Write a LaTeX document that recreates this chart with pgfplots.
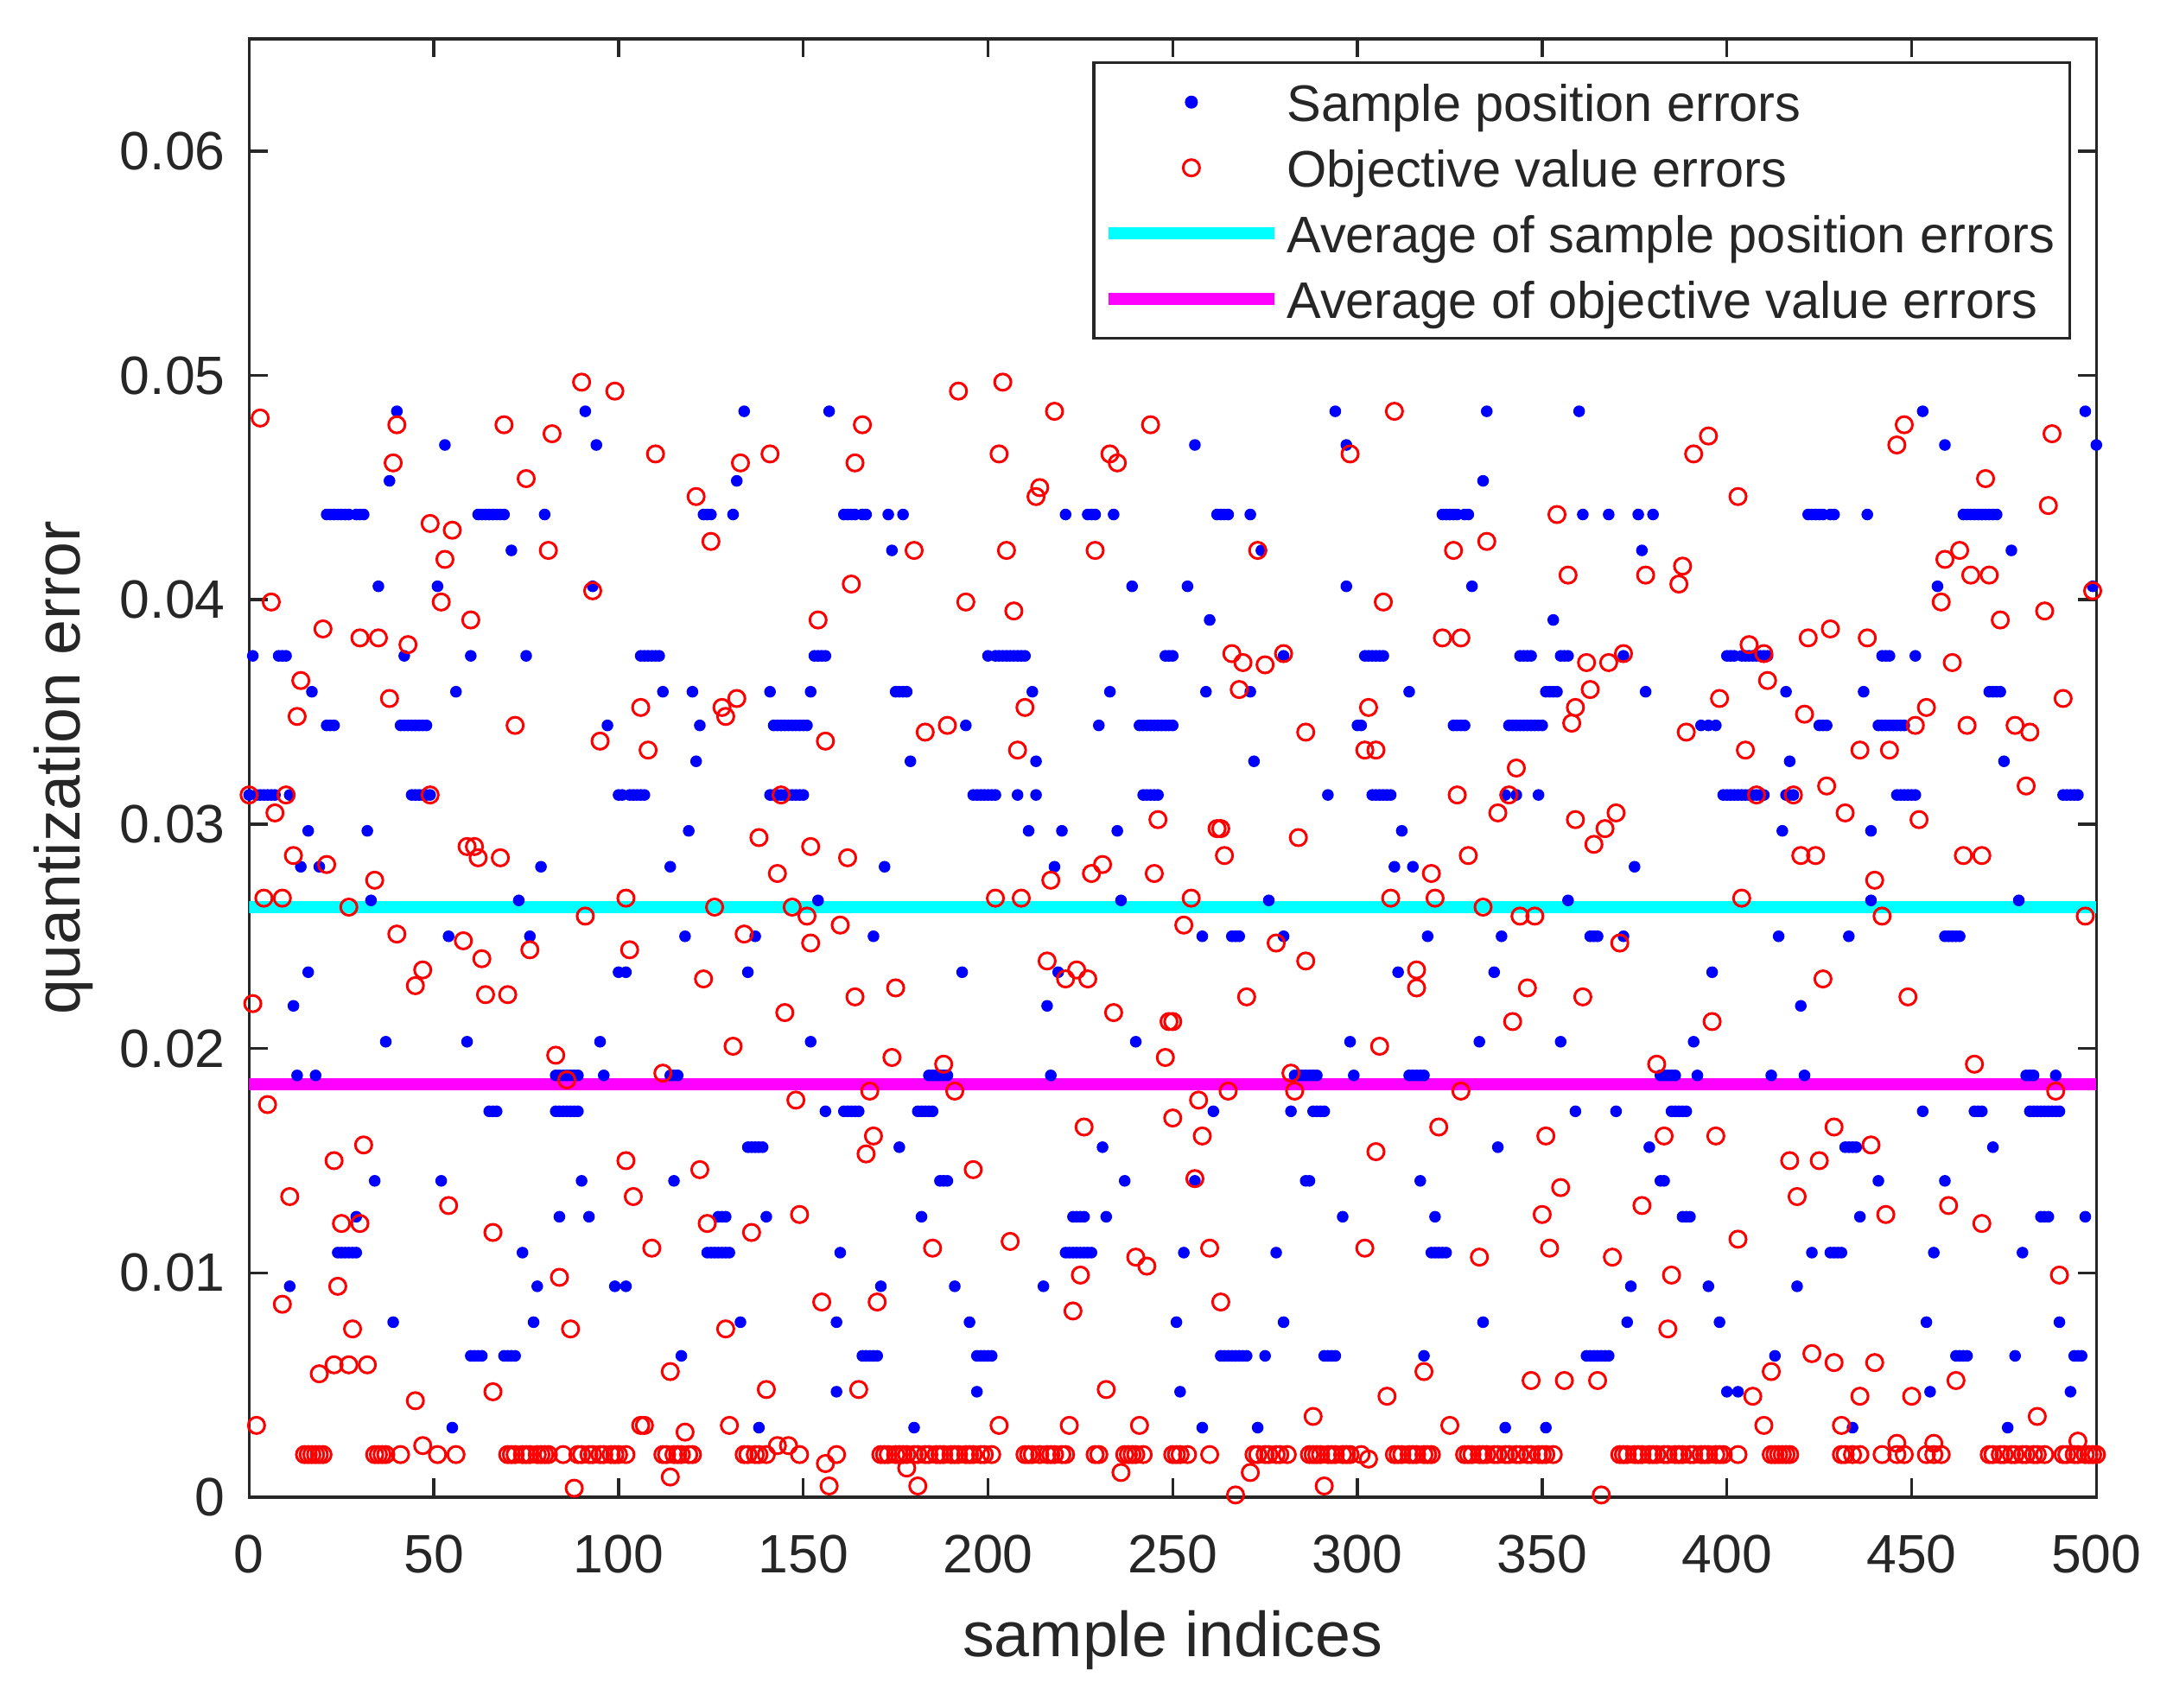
\documentclass[border=0pt]{standalone}
\usepackage{fontspec}
\setmainfont{Liberation Sans}
\usepackage{pgfplots}
\pgfplotsset{compat=1.18}
\definecolor{mcyan}{rgb}{0,1,1}
\definecolor{mmag}{rgb}{1,0,1}
\definecolor{mblue}{rgb}{0,0,1}
\definecolor{mred}{rgb}{1,0,0}
\begin{document}
\begin{tikzpicture}
\begin{axis}[
  width=427.6pt, height=337.6pt, scale only axis,
  xmin=0, xmax=500, ymin=0, ymax=0.065,
  xtick={0,50,...,500},
  ytick={0,0.01,0.02,0.03,0.04,0.05,0.06},
  yticklabels={0,0.01,0.02,0.03,0.04,0.05,0.06},
  scaled y ticks=false,
  tick align=inside,
  major tick length=4.3pt,
  axis line style={black!85, line width=0.7pt},
  every tick/.style={black!85, line width=0.7pt},
  ticklabel style={font=\fontsize{12.5}{14}\selectfont, text=black!85},
  /pgf/number format/assume math mode=true,
  xticklabel style={yshift=-5.3pt},
  yticklabel style={xshift=-2pt},
  xlabel={sample indices}, ylabel={quantization error},
  label style={font=\fontsize{14.7}{17}\selectfont, text=black!85},
  xlabel style={at={(axis description cs:0.5,0)}, yshift=-37pt, anchor=base},
  ylabel style={at={(axis description cs:-0.1006,0.5)}, anchor=center},
  legend style={at={(rel axis cs:0.9864,0.9846)}, anchor=north east, draw=black!85, line width=0.7pt,
    font=\fontsize{11.9}{14}\selectfont, text=black!85, inner sep=2pt, row sep=1pt,
    nodes={inner sep=1.5pt, text height=10pt, text depth=1.2pt}, cells={anchor=west}},
  legend image code/.code={\draw[mark repeat=2,mark phase=2,#1] plot coordinates {(0cm,0cm) (0.675cm,0cm) (1.35cm,0cm)};},
]
\addplot[only marks, mark=*, mark size=1.15pt, color=mblue] coordinates {
(40,0.0484)(91,0.0484)(53,0.0469)(94,0.0469)(38,0.0453)
(21,0.0438)(22,0.0438)(23,0.0438)(24,0.0438)(25,0.0438)(26,0.0438)(27,0.0438)(29,0.0438)(30,0.0438)(31,0.0438)(62,0.0438)(63,0.0438)(64,0.0438)(65,0.0438)(66,0.0438)(67,0.0438)(68,0.0438)(69,0.0438)(80,0.0438)
(71,0.0422)(35,0.0406)(51,0.0406)(93,0.0406)
(1,0.0375)(8,0.0375)(9,0.0375)(10,0.0375)(42,0.0375)(60,0.0375)(75,0.0375)
(17,0.0359)(56,0.0359)
(21,0.0344)(22,0.0344)(23,0.0344)(41,0.0344)(42,0.0344)(43,0.0344)(44,0.0344)(45,0.0344)(46,0.0344)(47,0.0344)(48,0.0344)(97,0.0344)
(0,0.0313)(2,0.0313)(3,0.0313)(4,0.0313)(5,0.0313)(6,0.0313)(7,0.0313)(11,0.0313)(44,0.0313)(45,0.0313)(46,0.0313)(47,0.0313)(48,0.0313)(49,0.0313)(100,0.0313)(101,0.0313)
(16,0.0297)(32,0.0297)(14,0.0281)(19,0.0281)(79,0.0281)(33,0.0266)(73,0.0266)(54,0.025)(76,0.025)(16,0.0234)(100,0.0234)(12,0.0219)
(37,0.0203)(59,0.0203)(95,0.0203)
(13,0.0188)(18,0.0188)(83,0.0188)(84,0.0188)(85,0.0188)(86,0.0188)(87,0.0188)(88,0.0188)(89,0.0188)(96,0.0188)
(65,0.0172)(66,0.0172)(67,0.0172)(83,0.0172)(84,0.0172)(85,0.0172)(86,0.0172)(87,0.0172)(88,0.0172)(89,0.0172)
(34,0.0141)(52,0.0141)(90,0.0141)(29,0.0125)(84,0.0125)(92,0.0125)
(24,0.0109)(25,0.0109)(26,0.0109)(27,0.0109)(28,0.0109)(29,0.0109)(74,0.0109)
(11,0.0094)(78,0.0094)(99,0.0094)(39,0.0078)(77,0.0078)
(60,0.0063)(61,0.0063)(62,0.0063)(63,0.0063)(69,0.0063)(70,0.0063)(71,0.0063)(72,0.0063)(55,0.0031)
(134,0.0484)(157,0.0484)(132,0.0453)
(123,0.0438)(124,0.0438)(125,0.0438)(131,0.0438)(161,0.0438)(162,0.0438)(163,0.0438)(164,0.0438)(166,0.0438)(167,0.0438)(173,0.0438)(177,0.0438)
(174,0.0422)
(106,0.0375)(107,0.0375)(108,0.0375)(109,0.0375)(110,0.0375)(111,0.0375)(153,0.0375)(154,0.0375)(155,0.0375)(156,0.0375)(200,0.0375)
(112,0.0359)(120,0.0359)(141,0.0359)(152,0.0359)(175,0.0359)(176,0.0359)(177,0.0359)(178,0.0359)
(122,0.0344)(142,0.0344)(143,0.0344)(144,0.0344)(145,0.0344)(146,0.0344)(147,0.0344)(148,0.0344)(149,0.0344)(150,0.0344)(151,0.0344)(194,0.0344)
(121,0.0328)(179,0.0328)
(103,0.0313)(104,0.0313)(105,0.0313)(106,0.0313)(107,0.0313)(141,0.0313)(142,0.0313)(143,0.0313)(144,0.0313)(145,0.0313)(146,0.0313)(147,0.0313)(148,0.0313)(149,0.0313)(150,0.0313)(196,0.0313)(197,0.0313)(198,0.0313)(199,0.0313)(200,0.0313)
(119,0.0297)(114,0.0281)(172,0.0281)(154,0.0266)(118,0.025)(137,0.025)(169,0.025)(102,0.0234)(135,0.0234)(193,0.0234)(152,0.0203)
(114,0.0188)(115,0.0188)(116,0.0188)(184,0.0188)(185,0.0188)(186,0.0188)(187,0.0188)(188,0.0188)(189,0.0188)
(156,0.0172)(161,0.0172)(162,0.0172)(163,0.0172)(164,0.0172)(165,0.0172)(181,0.0172)(182,0.0172)(183,0.0172)(184,0.0172)(185,0.0172)
(135,0.0156)(136,0.0156)(137,0.0156)(138,0.0156)(139,0.0156)(176,0.0156)
(115,0.0141)(187,0.0141)(188,0.0141)(189,0.0141)
(127,0.0125)(128,0.0125)(129,0.0125)(140,0.0125)(182,0.0125)
(124,0.0109)(125,0.0109)(126,0.0109)(127,0.0109)(128,0.0109)(129,0.0109)(130,0.0109)(160,0.0109)
(102,0.0094)(171,0.0094)(191,0.0094)(133,0.0078)(159,0.0078)(195,0.0078)
(117,0.0063)(166,0.0063)(167,0.0063)(168,0.0063)(169,0.0063)(170,0.0063)(197,0.0063)(198,0.0063)(199,0.0063)(200,0.0063)
(159,0.0047)(197,0.0047)(138,0.0031)(180,0.0031)
(294,0.0484)(256,0.0469)(297,0.0469)
(221,0.0438)(227,0.0438)(228,0.0438)(229,0.0438)(234,0.0438)(262,0.0438)(263,0.0438)(264,0.0438)(265,0.0438)(271,0.0438)
(274,0.0422)(239,0.0406)(254,0.0406)(297,0.0406)(260,0.0391)
(202,0.0375)(203,0.0375)(204,0.0375)(205,0.0375)(206,0.0375)(207,0.0375)(208,0.0375)(209,0.0375)(210,0.0375)(248,0.0375)(249,0.0375)(250,0.0375)(280,0.0375)
(212,0.0359)(233,0.0359)(259,0.0359)(271,0.0359)
(230,0.0344)(241,0.0344)(242,0.0344)(243,0.0344)(244,0.0344)(245,0.0344)(246,0.0344)(247,0.0344)(248,0.0344)(249,0.0344)(250,0.0344)(300,0.0344)
(213,0.0328)(272,0.0328)
(201,0.0313)(202,0.0313)(208,0.0313)(213,0.0313)(242,0.0313)(243,0.0313)(244,0.0313)(245,0.0313)(246,0.0313)(292,0.0313)
(211,0.0297)(220,0.0297)(235,0.0297)(218,0.0281)(236,0.0266)(276,0.0266)
(258,0.025)(266,0.025)(267,0.025)(268,0.025)(280,0.025)(219,0.0234)(216,0.0219)(240,0.0203)(298,0.0203)
(217,0.0188)(283,0.0188)(284,0.0188)(285,0.0188)(286,0.0188)(287,0.0188)(288,0.0188)(289,0.0188)(299,0.0188)
(261,0.0172)(282,0.0172)(288,0.0172)(289,0.0172)(290,0.0172)(291,0.0172)
(231,0.0156)(237,0.0141)(256,0.0141)(286,0.0141)(287,0.0141)
(223,0.0125)(224,0.0125)(225,0.0125)(226,0.0125)(232,0.0125)(296,0.0125)
(221,0.0109)(222,0.0109)(223,0.0109)(224,0.0109)(225,0.0109)(226,0.0109)(227,0.0109)(228,0.0109)(253,0.0109)(278,0.0109)
(215,0.0094)(251,0.0078)(280,0.0078)
(201,0.0063)(263,0.0063)(264,0.0063)(265,0.0063)(266,0.0063)(267,0.0063)(268,0.0063)(269,0.0063)(270,0.0063)(275,0.0063)(291,0.0063)(292,0.0063)(293,0.0063)(294,0.0063)
(252,0.0047)(258,0.0031)(273,0.0031)
(335,0.0484)(360,0.0484)(334,0.0453)
(323,0.0438)(324,0.0438)(325,0.0438)(326,0.0438)(327,0.0438)(329,0.0438)(330,0.0438)(361,0.0438)(368,0.0438)(376,0.0438)(380,0.0438)
(377,0.0422)(331,0.0406)(353,0.0391)
(302,0.0375)(303,0.0375)(304,0.0375)(305,0.0375)(306,0.0375)(307,0.0375)(344,0.0375)(345,0.0375)(346,0.0375)(347,0.0375)(355,0.0375)(356,0.0375)(357,0.0375)(372,0.0375)(400,0.0375)(401,0.0375)(402,0.0375)
(314,0.0359)(351,0.0359)(352,0.0359)(353,0.0359)(354,0.0359)(378,0.0359)
(301,0.0344)(326,0.0344)(327,0.0344)(328,0.0344)(329,0.0344)(341,0.0344)(342,0.0344)(343,0.0344)(344,0.0344)(345,0.0344)(346,0.0344)(347,0.0344)(348,0.0344)(349,0.0344)(350,0.0344)(393,0.0344)(395,0.0344)(397,0.0344)
(304,0.0313)(305,0.0313)(306,0.0313)(307,0.0313)(308,0.0313)(309,0.0313)(340,0.0313)(343,0.0313)(349,0.0313)(399,0.0313)(400,0.0313)(401,0.0313)(402,0.0313)(403,0.0313)
(312,0.0297)(310,0.0281)(315,0.0281)(375,0.0281)(357,0.0266)
(319,0.025)(339,0.025)(363,0.025)(364,0.025)(365,0.025)(372,0.025)(311,0.0234)(337,0.0234)(396,0.0234)
(333,0.0203)(355,0.0203)(391,0.0203)
(314,0.0188)(315,0.0188)(316,0.0188)(317,0.0188)(318,0.0188)(382,0.0188)(383,0.0188)(384,0.0188)(385,0.0188)(386,0.0188)(392,0.0188)
(359,0.0172)(370,0.0172)(385,0.0172)(386,0.0172)(387,0.0172)(388,0.0172)(389,0.0172)
(338,0.0156)(379,0.0156)(317,0.0141)(382,0.0141)(383,0.0141)
(321,0.0125)(388,0.0125)(389,0.0125)(390,0.0125)
(320,0.0109)(321,0.0109)(322,0.0109)(323,0.0109)(324,0.0109)
(374,0.0094)(395,0.0094)(334,0.0078)(373,0.0078)(398,0.0078)
(318,0.0063)(362,0.0063)(363,0.0063)(364,0.0063)(365,0.0063)(366,0.0063)(367,0.0063)(368,0.0063)
(400,0.0047)(340,0.0031)(351,0.0031)
(453,0.0484)(497,0.0484)(459,0.0469)(500,0.0469)
(422,0.0438)(423,0.0438)(424,0.0438)(425,0.0438)(426,0.0438)(428,0.0438)(429,0.0438)(438,0.0438)(464,0.0438)(465,0.0438)(466,0.0438)(467,0.0438)(468,0.0438)(469,0.0438)(470,0.0438)(471,0.0438)(472,0.0438)(473,0.0438)
(477,0.0422)(457,0.0406)(499,0.0406)
(404,0.0375)(405,0.0375)(406,0.0375)(407,0.0375)(408,0.0375)(409,0.0375)(410,0.0375)(411,0.0375)(442,0.0375)(443,0.0375)(444,0.0375)(451,0.0375)
(416,0.0359)(437,0.0359)(471,0.0359)(472,0.0359)(473,0.0359)(474,0.0359)
(425,0.0344)(426,0.0344)(427,0.0344)(441,0.0344)(442,0.0344)(443,0.0344)(444,0.0344)(445,0.0344)(446,0.0344)(447,0.0344)(448,0.0344)
(417,0.0328)(475,0.0328)
(404,0.0313)(405,0.0313)(406,0.0313)(407,0.0313)(408,0.0313)(409,0.0313)(410,0.0313)(416,0.0313)(417,0.0313)(418,0.0313)(446,0.0313)(447,0.0313)(448,0.0313)(449,0.0313)(450,0.0313)(451,0.0313)(491,0.0313)(492,0.0313)(493,0.0313)(494,0.0313)(495,0.0313)
(415,0.0297)(439,0.0297)(439,0.0266)(479,0.0266)
(414,0.025)(433,0.025)(459,0.025)(460,0.025)(461,0.025)(462,0.025)(463,0.025)(420,0.0219)
(412,0.0188)(421,0.0188)(481,0.0188)(482,0.0188)(483,0.0188)(489,0.0188)
(453,0.0172)(467,0.0172)(468,0.0172)(469,0.0172)(482,0.0172)(483,0.0172)(484,0.0172)(485,0.0172)(486,0.0172)(487,0.0172)(488,0.0172)(489,0.0172)(490,0.0172)
(432,0.0156)(433,0.0156)(434,0.0156)(435,0.0156)(472,0.0156)(441,0.0141)(459,0.0141)
(436,0.0125)(485,0.0125)(486,0.0125)(487,0.0125)(497,0.0125)
(423,0.0109)(428,0.0109)(429,0.0109)(430,0.0109)(431,0.0109)(456,0.0109)(480,0.0109)
(419,0.0094)(454,0.0078)(490,0.0078)
(413,0.0063)(462,0.0063)(463,0.0063)(464,0.0063)(465,0.0063)(478,0.0063)(494,0.0063)(495,0.0063)(496,0.0063)
(403,0.0047)(455,0.0047)(493,0.0047)(434,0.0031)(476,0.0031)
};
\addlegendentry{Sample position errors}
\addplot[only marks, mark=o, mark size=1.9pt, color=mred, line width=0.6pt] coordinates {
(3,0.0481)(90,0.0497)(99,0.0493)(40,0.0478)(69,0.0478)(82,0.0474)(39,0.0461)(75,0.0454)(49,0.0434)(55,0.0431)(53,0.0418)(81,0.0422)(52,0.0399)(6,0.0399)(93,0.0404)(20,0.0387)(30,0.0383)(35,0.0383)(43,0.0380)(60,0.0391)(14,0.0364)(38,0.0356)(13,0.0348)(72,0.0344)(95,0.0337)(0,0.0313)(10,0.0313)(49,0.0313)(7,0.0305)(12,0.0286)(21,0.0282)(34,0.0275)(59,0.0290)(61,0.0290)(62,0.0285)(68,0.0285)(4,0.0267)(9,0.0267)(27,0.0263)(102,0.0267)(91,0.0259)(40,0.0251)(58,0.0248)(63,0.0240)(76,0.0244)(103,0.0244)(47,0.0235)(45,0.0228)(64,0.0224)(70,0.0224)(1,0.0220)(83,0.0197)(86,0.0186)(5,0.0175)(31,0.0157)(23,0.0150)(11,0.0134)(102,0.0150)(104,0.0134)(54,0.0130)(25,0.0122)(30,0.0122)(66,0.0118)(24,0.0094)(9,0.0086)(84,0.0098)(28,0.0075)(87,0.0075)(19,0.0055)(23,0.0059)(27,0.0059)(32,0.0059)(45,0.0043)(66,0.0047)(2,0.0032)(106,0.0032)
(15,0.0019)(16,0.0019)(17,0.0019)(18,0.0019)(19,0.0019)(20,0.0019)(34,0.0019)(35,0.0019)(36,0.0019)(37,0.0019)(41,0.0019)(51,0.0019)(56,0.0019)(70,0.0019)(71,0.0019)(72,0.0019)(74,0.0019)(75,0.0019)(76,0.0019)(78,0.0019)(79,0.0019)(80,0.0019)(81,0.0019)(85,0.0019)(89,0.0019)(90,0.0019)(92,0.0019)(93,0.0019)(95,0.0019)(96,0.0019)(98,0.0019)(99,0.0019)(100,0.0019)
(47,0.0023)(88,0.0004)
(192,0.0493)(166,0.0478)(110,0.0465)(133,0.0461)(141,0.0465)(164,0.0461)(121,0.0446)(125,0.0426)(180,0.0422)(163,0.0407)(154,0.0391)(194,0.0399)(106,0.0352)(128,0.0352)(129,0.0348)(132,0.0356)(108,0.0333)(156,0.0337)(183,0.0341)(189,0.0344)(144,0.0313)(138,0.0294)(152,0.0290)(162,0.0285)(143,0.0278)(126,0.0263)(147,0.0263)(151,0.0259)(134,0.0251)(160,0.0255)(152,0.0247)(123,0.0231)(164,0.0223)(175,0.0227)(145,0.0216)(131,0.0201)(174,0.0196)(112,0.0189)(188,0.0193)(191,0.0181)(168,0.0181)(148,0.0177)(169,0.0161)(167,0.0153)(122,0.0146)(196,0.0146)(124,0.0122)(136,0.0118)(149,0.0126)(185,0.0111)(109,0.0111)(155,0.0087)(170,0.0087)(129,0.0075)(114,0.0056)(140,0.0048)(165,0.0048)(107,0.0032)(130,0.0032)(118,0.0029)
(102,0.0019)(112,0.0019)(113,0.0019)(115,0.0019)(116,0.0019)(117,0.0019)(119,0.0019)(120,0.0019)(134,0.0019)(135,0.0019)(137,0.0019)(138,0.0019)(140,0.0019)(149,0.0019)(159,0.0019)(171,0.0019)(172,0.0019)(173,0.0019)(175,0.0019)(176,0.0019)(177,0.0019)(178,0.0019)(180,0.0019)(181,0.0019)(183,0.0019)(184,0.0019)(186,0.0019)(187,0.0019)(188,0.0019)(190,0.0019)(191,0.0019)(192,0.0019)(194,0.0019)(195,0.0019)(196,0.0019)(198,0.0019)(199,0.0019)
(143,0.0023)(146,0.0023)(156,0.0015)(114,0.0009)(157,0.0005)(178,0.0013)(181,0.0005)
(204,0.0497)(218,0.0484)(244,0.0478)(203,0.0465)(233,0.0465)(235,0.0461)(298,0.0465)(214,0.0450)(213,0.0446)(205,0.0422)(229,0.0422)(273,0.0422)(207,0.0395)(266,0.0376)(269,0.0372)(275,0.0371)(280,0.0376)(268,0.0360)(210,0.0352)(286,0.0341)(208,0.0333)(246,0.0302)(262,0.0298)(263,0.0298)(284,0.0294)(264,0.0286)(231,0.0282)(228,0.0278)(245,0.0278)(217,0.0275)(202,0.0267)(209,0.0267)(255,0.0267)(253,0.0255)(278,0.0247)(286,0.0239)(216,0.0239)(221,0.0231)(224,0.0235)(227,0.0231)(270,0.0223)(234,0.0216)(249,0.0212)(250,0.0212)(248,0.0196)(282,0.0189)(283,0.0181)(257,0.0177)(265,0.0181)(226,0.0165)(250,0.0169)(258,0.0161)(256,0.0142)(206,0.0114)(260,0.0111)(240,0.0107)(243,0.0103)(225,0.0099)(263,0.0087)(223,0.0083)(232,0.0048)(203,0.0032)(222,0.0032)(241,0.0032)(288,0.0036)
(201,0.0019)(210,0.0019)(211,0.0019)(212,0.0019)(214,0.0019)(216,0.0019)(217,0.0019)(218,0.0019)(220,0.0019)(221,0.0019)(229,0.0019)(230,0.0019)(237,0.0019)(238,0.0019)(239,0.0019)(240,0.0019)(242,0.0019)(250,0.0019)(251,0.0019)(252,0.0019)(254,0.0019)(260,0.0019)(272,0.0019)(273,0.0019)(275,0.0019)(276,0.0019)(278,0.0019)(279,0.0019)(281,0.0019)(287,0.0019)(288,0.0019)(289,0.0019)(290,0.0019)(292,0.0019)(293,0.0019)(294,0.0019)(296,0.0019)(297,0.0019)(298,0.0019)
(236,0.0011)(271,0.0011)(267,0.0001)(291,0.0005)
(310,0.0484)(391,0.0465)(395,0.0473)(354,0.0438)(326,0.0422)(335,0.0426)(357,0.0411)(378,0.0411)(388,0.0415)(387,0.0407)(307,0.0399)(323,0.0383)(328,0.0383)(362,0.0372)(368,0.0372)(372,0.0376)(363,0.0360)(359,0.0352)(358,0.0345)(303,0.0352)(398,0.0356)(389,0.0341)(302,0.0333)(305,0.0333)(343,0.0325)(327,0.0313)(338,0.0305)(341,0.0313)(359,0.0302)(367,0.0298)(370,0.0305)(364,0.0291)(320,0.0278)(330,0.0286)(309,0.0267)(321,0.0267)(334,0.0263)(344,0.0259)(348,0.0259)(371,0.0247)(316,0.0235)(316,0.0227)(346,0.0227)(361,0.0223)(342,0.0212)(396,0.0212)(306,0.0201)(328,0.0181)(381,0.0193)(322,0.0165)(351,0.0161)(383,0.0161)(397,0.0161)(305,0.0154)(355,0.0138)(377,0.0130)(350,0.0126)(302,0.0111)(352,0.0111)(333,0.0107)(369,0.0107)(385,0.0099)(384,0.0075)(318,0.0056)(308,0.0045)(347,0.0052)(356,0.0052)(365,0.0052)(325,0.0032)(303,0.0017)
(301,0.0019)(310,0.0019)(311,0.0019)(312,0.0019)(314,0.0019)(315,0.0019)(316,0.0019)(318,0.0019)(319,0.0019)(320,0.0019)(329,0.0019)(330,0.0019)(331,0.0019)(333,0.0019)(334,0.0019)(335,0.0019)(337,0.0019)(338,0.0019)(340,0.0019)(341,0.0019)(343,0.0019)(344,0.0019)(346,0.0019)(347,0.0019)(349,0.0019)(350,0.0019)(351,0.0019)(353,0.0019)(371,0.0019)(372,0.0019)(373,0.0019)(375,0.0019)(376,0.0019)(377,0.0019)(379,0.0019)(380,0.0019)(381,0.0019)(383,0.0019)(384,0.0019)(386,0.0019)(387,0.0019)(388,0.0019)(390,0.0019)(391,0.0019)(393,0.0019)(394,0.0019)(395,0.0019)(397,0.0019)(398,0.0019)(399,0.0019)
(366,0.0001)
(448,0.0478)(446,0.0469)(488,0.0474)(470,0.0454)(487,0.0442)(403,0.0446)(459,0.0418)(463,0.0422)(466,0.0411)(471,0.0411)(458,0.0399)(499,0.0404)(474,0.0391)(486,0.0395)(406,0.0380)(410,0.0376)(422,0.0383)(428,0.0387)(438,0.0383)(461,0.0372)(411,0.0364)(491,0.0356)(421,0.0349)(454,0.0352)(451,0.0344)(465,0.0344)(478,0.0344)(482,0.0341)(405,0.0333)(436,0.0333)(444,0.0333)(408,0.0313)(418,0.0313)(427,0.0317)(432,0.0305)(481,0.0317)(452,0.0302)(420,0.0286)(424,0.0286)(464,0.0286)(469,0.0286)(440,0.0275)(404,0.0267)(442,0.0259)(497,0.0259)(426,0.0231)(449,0.0223)(467,0.0193)(489,0.0181)(429,0.0165)(439,0.0157)(417,0.0150)(425,0.0150)(419,0.0134)(443,0.0126)(460,0.0130)(469,0.0122)(403,0.0115)(490,0.0099)(423,0.0064)(429,0.0060)(440,0.0060)(412,0.0056)(462,0.0052)(407,0.0045)(436,0.0045)(450,0.0045)(410,0.0032)(431,0.0032)(484,0.0036)
(403,0.0019)(412,0.0019)(413,0.0019)(414,0.0019)(415,0.0019)(416,0.0019)(417,0.0019)(431,0.0019)(432,0.0019)(434,0.0019)(436,0.0019)(442,0.0019)(446,0.0019)(448,0.0019)(454,0.0019)(456,0.0019)(458,0.0019)(471,0.0019)(472,0.0019)(474,0.0019)(475,0.0019)(477,0.0019)(478,0.0019)(480,0.0019)(481,0.0019)(483,0.0019)(484,0.0019)(486,0.0019)(491,0.0019)(492,0.0019)(494,0.0019)(495,0.0019)(497,0.0019)(498,0.0019)(499,0.0019)(500,0.0019)
(446,0.0024)(456,0.0024)(495,0.0025)
};
\addlegendentry{Objective value errors}
\addplot[color=mcyan, line width=2.8pt] coordinates {(0,0.0263)(500,0.0263)};
\addlegendentry{Average of sample position errors}
\addplot[color=mmag, line width=2.8pt] coordinates {(0,0.0184)(500,0.0184)};
\addlegendentry{Average of objective value errors}
\end{axis}
\path ([xshift=-57.66pt,yshift=-48.8pt]current axis.south west) rectangle ([xshift=17.74pt,yshift=9pt]current axis.north east);
\end{tikzpicture}
\end{document}
